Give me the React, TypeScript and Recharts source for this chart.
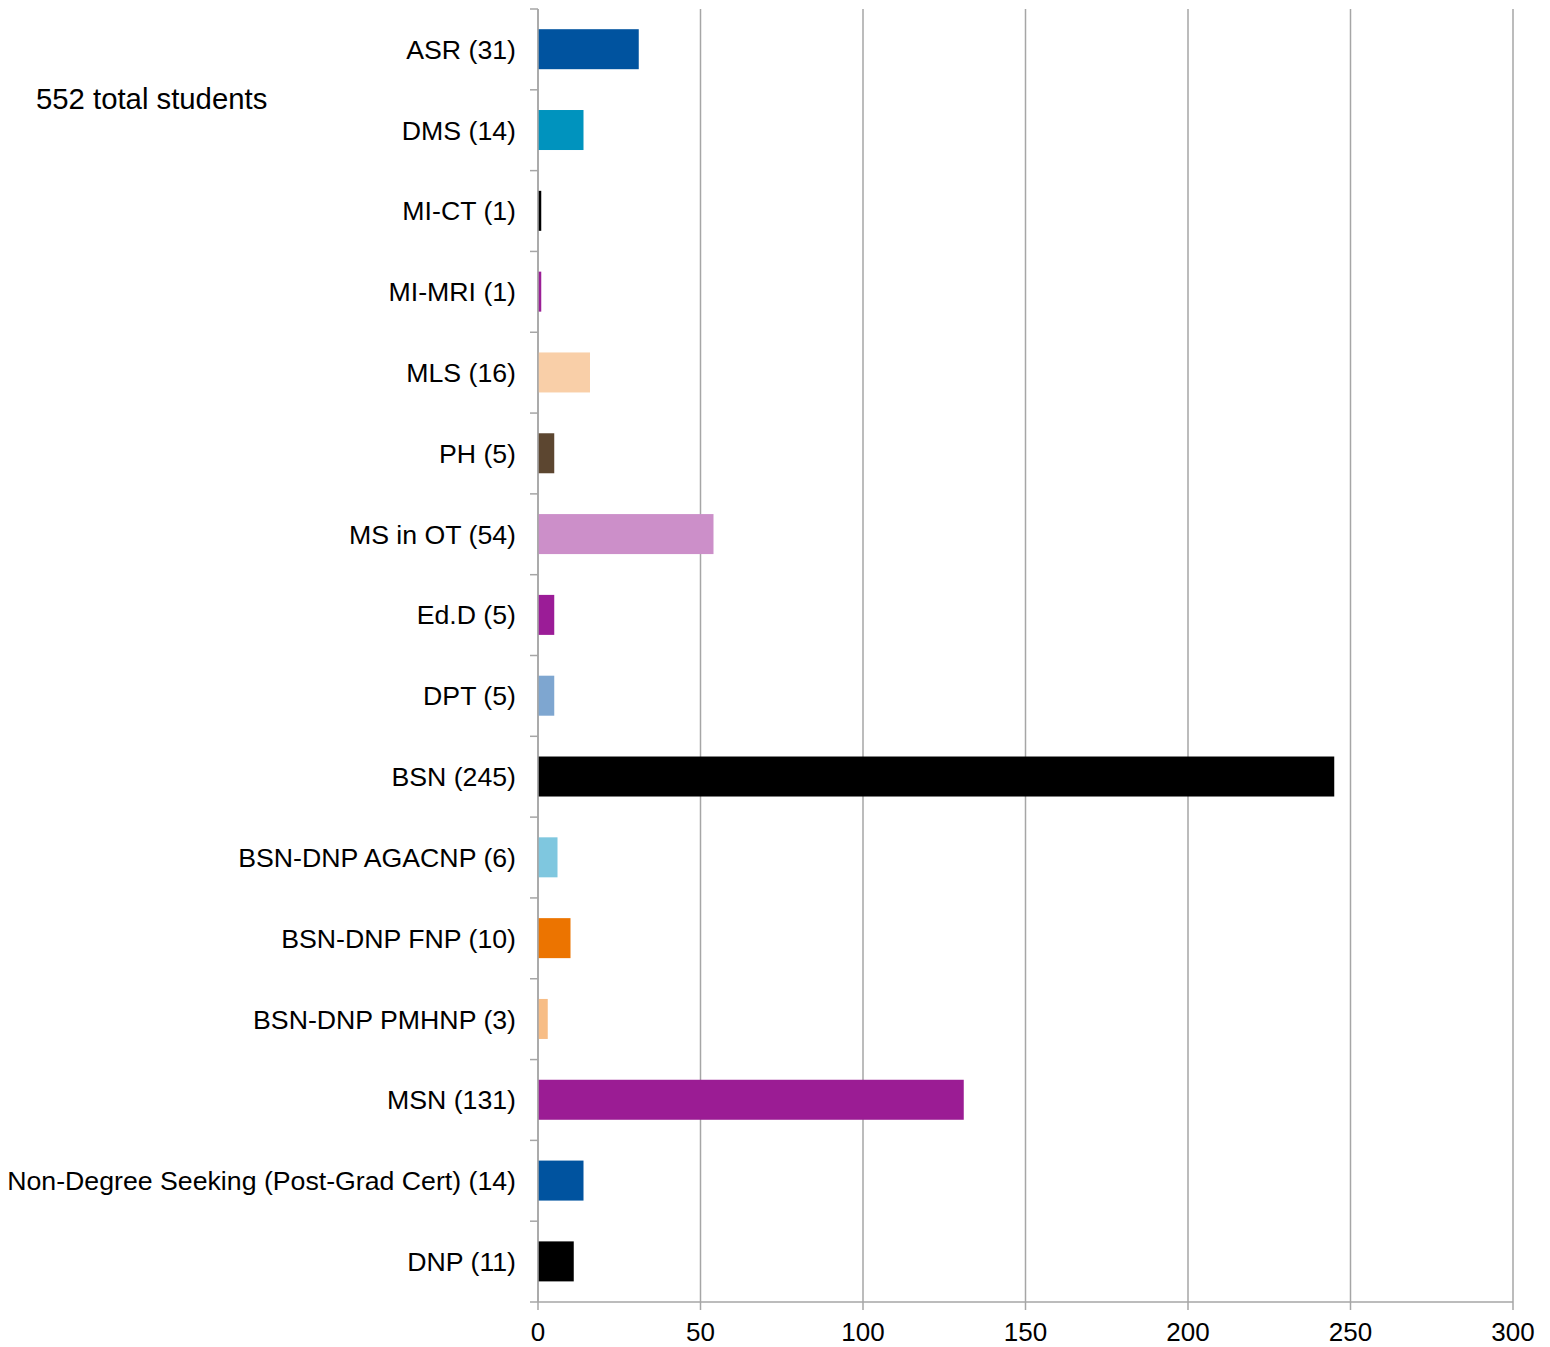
import { BarChart, Bar, XAxis, YAxis, CartesianGrid } from 'recharts';

const programs = [
  'ASR (31)',
  'DMS (14)',
  'MI-CT (1)',
  'MI-MRI (1)',
  'MLS (16)',
  'PH (5)',
  'MS in OT (54)',
  'Ed.D (5)',
  'DPT (5)',
  'BSN (245)',
  'BSN-DNP AGACNP (6)',
  'BSN-DNP FNP (10)',
  'BSN-DNP PMHNP (3)',
  'MSN (131)',
  'Non-Degree Seeking (Post-Grad Cert) (14)',
  'DNP (11)',
];
const students = [31, 14, 1, 1, 16, 5, 54, 5, 5, 245, 6, 10, 3, 131, 14, 11];
const barColors = [
  '#00539f', '#0093be', '#000000', '#9b1f96', '#f9cfa8', '#5c4630', '#cc8fc9', '#9b1c97',
  '#7ea6d0', '#000000', '#7fc7df', '#ec7400', '#f7bd86', '#9b1c94', '#00539f', '#000000',
];
const xTicks = [0, 50, 100, 150, 200, 250, 300];

const data = programs.map((name, i) => ({ name, value: students[i] }));

const W = 1550;
const H = 1347;
const M = { top: 9, right: 37, bottom: 0, left: 0 };
const Y_WIDTH = 538;
const X_HEIGHT = 45;
const plotH = H - M.top - M.bottom - X_HEIGHT;
const step = plotH / programs.length;
const FONT = 'Liberation Sans, Arial, sans-serif';
const GRID = '#a6a6a6';

// category label + the small tick marks that sit between categories
const CategoryTick = (props: any) => {
  const { x, y, payload, index } = props;
  const ax = x + 22;
  return (
    <g>
      <line x1={ax - 8} x2={ax} y1={y - step / 2} y2={y - step / 2} stroke={GRID} strokeWidth={1.5} />
      {index === programs.length - 1 && (
        <line x1={ax - 8} x2={ax} y1={y + step / 2} y2={y + step / 2} stroke={GRID} strokeWidth={1.5} />
      )}
      <text x={x} y={y} dy="0.35em" textAnchor="end" fontSize={26.7} fill="#000" fontFamily={FONT}>
        {payload.value}
      </text>
    </g>
  );
};

const ColoredBar = (props: any) => {
  const { x, y, width, height, index } = props;
  return <rect x={x} y={y} width={Math.max(width, 0)} height={height} fill={barColors[index]} />;
};

export default function App() {
  return (
    <div style={{ position: 'absolute', left: 0, top: 0, width: W, height: H, background: '#fff' }}>
      <BarChart width={W} height={H} data={data} layout="vertical" margin={M} barCategoryGap="25%">
        <CartesianGrid horizontal={false} stroke={GRID} strokeWidth={1.5} />
        <XAxis
          type="number"
          dataKey="value"
          domain={[0, 300]}
          ticks={xTicks}
          height={X_HEIGHT}
          tickSize={8}
          tickMargin={13}
          stroke={GRID}
          strokeWidth={1.5}
          tick={{ fill: '#000', fontSize: 26, fontFamily: FONT }}
        />
        <YAxis
          type="category"
          dataKey="name"
          width={Y_WIDTH}
          tickLine={false}
          tickMargin={0}
          tickSize={22}
          stroke={GRID}
          strokeWidth={1.5}
          interval={0}
          tick={CategoryTick}
        />
        <Bar dataKey="value" fill="#00539f" shape={ColoredBar} isAnimationActive={false} />
      </BarChart>
      <div
        style={{
          position: 'absolute',
          left: 36,
          top: 83,
          fontSize: 29.3,
          lineHeight: '32px',
          fontFamily: FONT,
          color: '#000',
        }}
      >
        552 total students
      </div>
    </div>
  );
}
